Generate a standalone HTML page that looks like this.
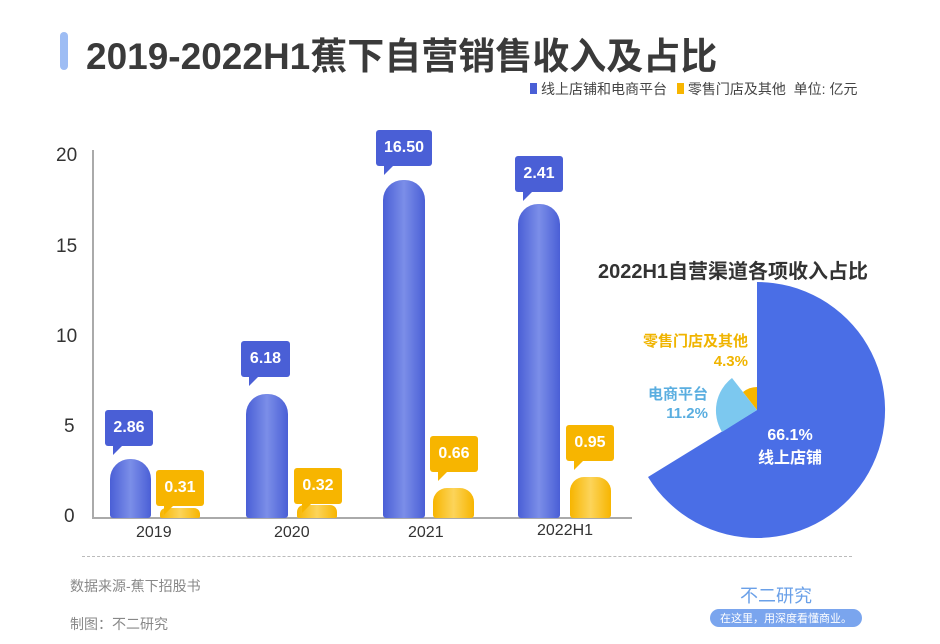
<!DOCTYPE html>
<html><head><meta charset="utf-8"><style>
body{margin:0;width:940px;height:644px;background:#fff;position:relative;overflow:hidden;font-family:"Liberation Sans","Noto Sans CJK SC",sans-serif}
.a{position:absolute}
.bb{position:absolute;border-radius:20px 20px 3px 3px;background:linear-gradient(90deg,#4a5fd6,#7b8ee8 50%,#4a5fd6)}
.yb{position:absolute;border-radius:14px 14px 3px 3px;background:linear-gradient(90deg,#f7b500,#fcd45a 50%,#f7b500)}
.lb{position:absolute;height:36px;border-radius:3px;color:#fff;font-weight:bold;font-size:16px;text-align:center;line-height:36px}
.lb:after{content:"";position:absolute;left:8px;bottom:-9px;border-left:0 solid transparent;border-right:10px solid transparent;border-top:10px solid;border-top-color:inherit}
.bl{background:#4a5fd6;border-top-color:#4a5fd6}
.yl{background:#f7b500;border-top-color:#f7b500}
.t{position:absolute;font-size:19px;color:#333}
</style></head><body>
<div class="a" style="left:60px;top:32px;width:8px;height:38px;background:#9ebdf4;border-radius:4px"></div>
<div class="a" style="left:86px;top:26px;font-size:37px;font-weight:bold;color:#3a3a3a">2019-2022H1蕉下自营销售收入及占比</div>
<div class="a" style="left:530px;top:79px;font-size:14px;color:#444;white-space:nowrap"><span style="display:inline-block;width:7px;height:11px;background:#4a5fd6;margin-right:4px"></span>线上店铺和电商平台 <span style="display:inline-block;width:7px;height:11px;background:#f7b500;margin:0 4px 0 6px"></span>零售门店及其他&nbsp; 单位: 亿元</div>
<div class="a" style="left:92px;top:150px;width:2px;height:368px;background:#aaa"></div>
<div class="a" style="left:92px;top:517px;width:540px;height:2px;background:#aaa"></div>
<div class="t" style="left:56px;top:145px">20</div>
<div class="t" style="left:56px;top:236px">15</div>
<div class="t" style="left:56px;top:326px">10</div>
<div class="t" style="left:64px;top:416px">5</div>
<div class="t" style="left:64px;top:506px">0</div>
<div class="bb" style="left:110px;top:459px;width:41px;height:59px"></div>
<div class="yb" style="left:160px;top:508px;width:40px;height:10px;border-radius:6px 6px 2px 2px"></div>
<div class="bb" style="left:246px;top:394px;width:42px;height:124px"></div>
<div class="yb" style="left:297px;top:505px;width:40px;height:13px;border-radius:7px 7px 2px 2px"></div>
<div class="bb" style="left:383px;top:180px;width:42px;height:338px"></div>
<div class="yb" style="left:433px;top:488px;width:41px;height:30px"></div>
<div class="bb" style="left:518px;top:204px;width:42px;height:314px"></div>
<div class="yb" style="left:570px;top:477px;width:41px;height:41px"></div>
<div class="lb bl" style="left:105px;top:410px;width:48px">2.86</div>
<div class="lb yl" style="left:156px;top:470px;width:48px">0.31</div>
<div class="lb bl" style="left:241px;top:341px;width:49px">6.18</div>
<div class="lb yl" style="left:294px;top:468px;width:48px">0.32</div>
<div class="lb bl" style="left:376px;top:130px;width:56px">16.50</div>
<div class="lb yl" style="left:430px;top:436px;width:48px">0.66</div>
<div class="lb bl" style="left:515px;top:156px;width:48px">2.41</div>
<div class="lb yl" style="left:566px;top:425px;width:48px">0.95</div>
<div class="t" style="left:136px;top:524px;font-size:16px">2019</div>
<div class="t" style="left:274px;top:524px;font-size:16px">2020</div>
<div class="t" style="left:408px;top:524px;font-size:16px">2021</div>
<div class="t" style="left:537px;top:522px;font-size:16px">2022H1</div>
<div class="a" style="left:82px;top:556px;width:770px;border-top:1px dashed #bbb"></div>
<div class="a" style="left:70px;top:576px;font-size:14px;color:#888">数据来源-蕉下招股书</div>
<div class="a" style="left:70px;top:614px;font-size:14px;color:#888">制图：不二研究</div>
<div class="a" style="left:598px;top:255px;font-size:20px;font-weight:bold;color:#333">2022H1自营渠道各项收入占比</div>
<svg class="a" style="left:0;top:0" width="940" height="644">
<path d="M757,410 L757,282 A128,128 0 1 1 648,477 Z" fill="#4a6ee6"/>
<path d="M757,410 L722,432 A41,41 0 0 1 732,378 Z" fill="#7cc8ef"/>
<path d="M757,410 L743,392 A23,23 0 0 1 757,387 Z" fill="#f7b500"/>
<text x="790" y="440" fill="#fff" font-size="16" font-weight="bold" text-anchor="middle">66.1%</text>
<text x="790" y="463" fill="#fff" font-size="16" font-weight="bold" text-anchor="middle">线上店铺</text>
<text x="748" y="346" fill="#f0b400" font-size="15" font-weight="bold" text-anchor="end">零售门店及其他</text>
<text x="748" y="366" fill="#f0b400" font-size="15" font-weight="bold" text-anchor="end">4.3%</text>
<text x="708" y="399" fill="#5aaee0" font-size="15" font-weight="bold" text-anchor="end">电商平台</text>
<text x="708" y="418" fill="#5aaee0" font-size="15" font-weight="bold" text-anchor="end">11.2%</text>
<text x="740" y="602" fill="#6aa0e8" font-size="18">不二研究</text>
<rect x="710" y="609" width="152" height="18" rx="9" fill="#7aa5ee"/>
<text x="786" y="622" fill="#fff" font-size="11" text-anchor="middle">在这里，用深度看懂商业。</text>
</svg>
</body></html>
